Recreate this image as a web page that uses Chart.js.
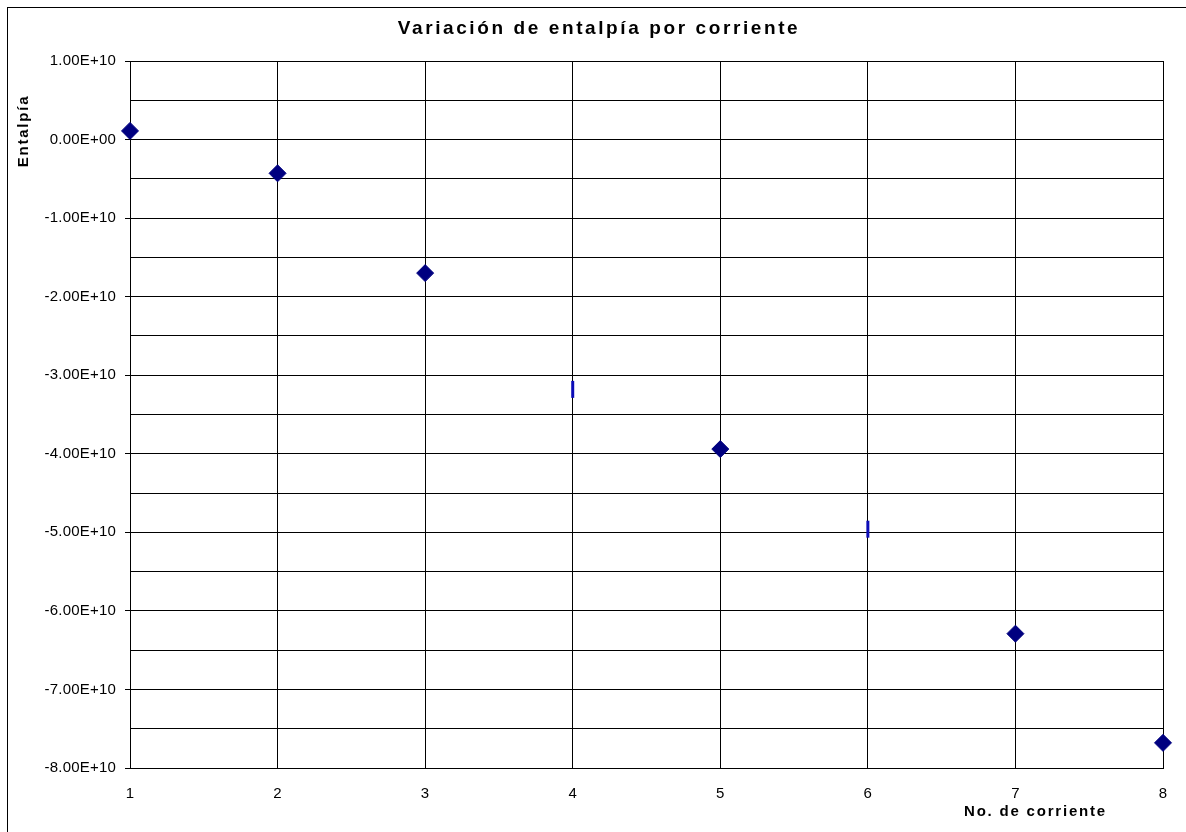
<!DOCTYPE html>
<html>
<head>
<meta charset="utf-8">
<script src="https://cdn.jsdelivr.net/npm/chart.js@4"></script>
<style>
  html, body { margin: 0; padding: 0; background: #fff; overflow: hidden; }
</style>
</head>
<body>
<canvas id="enthalpy" width="1186" height="832"></canvas>
<script>
// stream number vs. enthalpy change
const streams = [1, 2, 3, 4, 5, 6, 7, 8];
const enthalpy = [1.1e9, -4.3e9, -1.70e10, -3.18e10, -3.94e10, -4.96e10, -6.29e10, -7.68e10];
const markers = ['rectRot', 'rectRot', 'rectRot', 'line', 'rectRot', 'line', 'rectRot', 'rectRot'];
const yMin = -8e10;
const yMax = 1e10;
const chartTitle = 'Variación de entalpía por corriente';
const yTitle = 'Entalpía';
const xTitle = 'No. de corriente';

const FONT = '"Liberation Sans", Arial, sans-serif';

// Excel-like scientific notation: 1.00E+10, 0.00E+00
function sci(v) {
  const [m, e] = v.toExponential(2).split('e');
  const n = parseInt(e, 10);
  return m + 'E' + (n < 0 ? '-' : '+') + String(Math.abs(n)).padStart(2, '0');
}

function isMajor(v) {
  return Math.abs(Math.round(v / 5e9)) % 2 === 0;
}

const points = streams.map((x, i) => ({ x: x, y: enthalpy[i] }));

// outer frame, chart title and axis titles
const frameAndTitles = {
  id: 'frameAndTitles',
  beforeDraw(chart) {
    chart.ctx.letterSpacing = '0.2px';
  },
  afterDraw(chart) {
    const ctx = chart.ctx;
    ctx.save();
    ctx.strokeStyle = '#000';
    ctx.lineWidth = 1;
    ctx.strokeRect(7.5, 7.5, chart.width + 20, chart.height + 20);

    ctx.fillStyle = '#000';
    ctx.textAlign = 'center';
    ctx.textBaseline = 'middle';
    ctx.letterSpacing = '2.6px';
    ctx.font = 'bold 19px ' + FONT;
    ctx.fillText(chartTitle, 599, 29);

    ctx.font = 'bold 15px ' + FONT;
    ctx.letterSpacing = '1.8px';
    ctx.textAlign = 'right';
    ctx.fillText(xTitle, 1107, 812);

    ctx.textAlign = 'center';
    ctx.translate(24, 131);
    ctx.rotate(-Math.PI / 2);
    ctx.fillText(yTitle, 0, 0);
    ctx.restore();
  }
};

new Chart(document.getElementById('enthalpy'), {
  type: 'scatter',
  data: {
    datasets: [{
      data: points,
      pointStyle: markers,
      rotation: markers.map(s => s === 'line' ? 90 : 0),
      pointRadius: 8.5,
      pointHoverRadius: 8.5,
      backgroundColor: '#000080',
      borderColor: markers.map(s => s === 'line' ? '#0c0cb8' : '#000080'),
      borderWidth: markers.map(s => s === 'line' ? 3 : 1),
      clip: false
    }]
  },
  options: {
    responsive: false,
    animation: false,
    layout: { padding: { left: 0, top: 61, right: 23, bottom: 24 } },
    plugins: {
      legend: { display: false },
      tooltip: { enabled: false }
    },
    scales: {
      x: {
        type: 'linear',
        min: 1,
        max: 8,
        afterFit: s => { s.height = 40; },
        border: { color: '#000', width: 1 },
        grid: { color: '#000', lineWidth: 1, drawTicks: false },
        ticks: {
          stepSize: 1,
          padding: 17,
          color: '#000',
          font: { family: FONT, size: 15 }
        }
      },
      y: {
        min: yMin,
        max: yMax,
        afterFit: s => { s.width = 130; },
        border: { color: '#000', width: 1 },
        grid: {
          color: '#000',
          lineWidth: 1,
          tickLength: 5,
          tickColor: c => (c.tick && isMajor(c.tick.value)) ? '#000' : 'rgba(0,0,0,0)'
        },
        ticks: {
          stepSize: 5e9,
          maxTicksLimit: 100,
          autoSkip: false,
          padding: 9,
          color: '#000',
          font: { family: FONT, size: 15 },
          callback: v => isMajor(v) ? sci(v) : ''
        }
      }
    }
  },
  plugins: [frameAndTitles]
});
</script>
</body>
</html>
